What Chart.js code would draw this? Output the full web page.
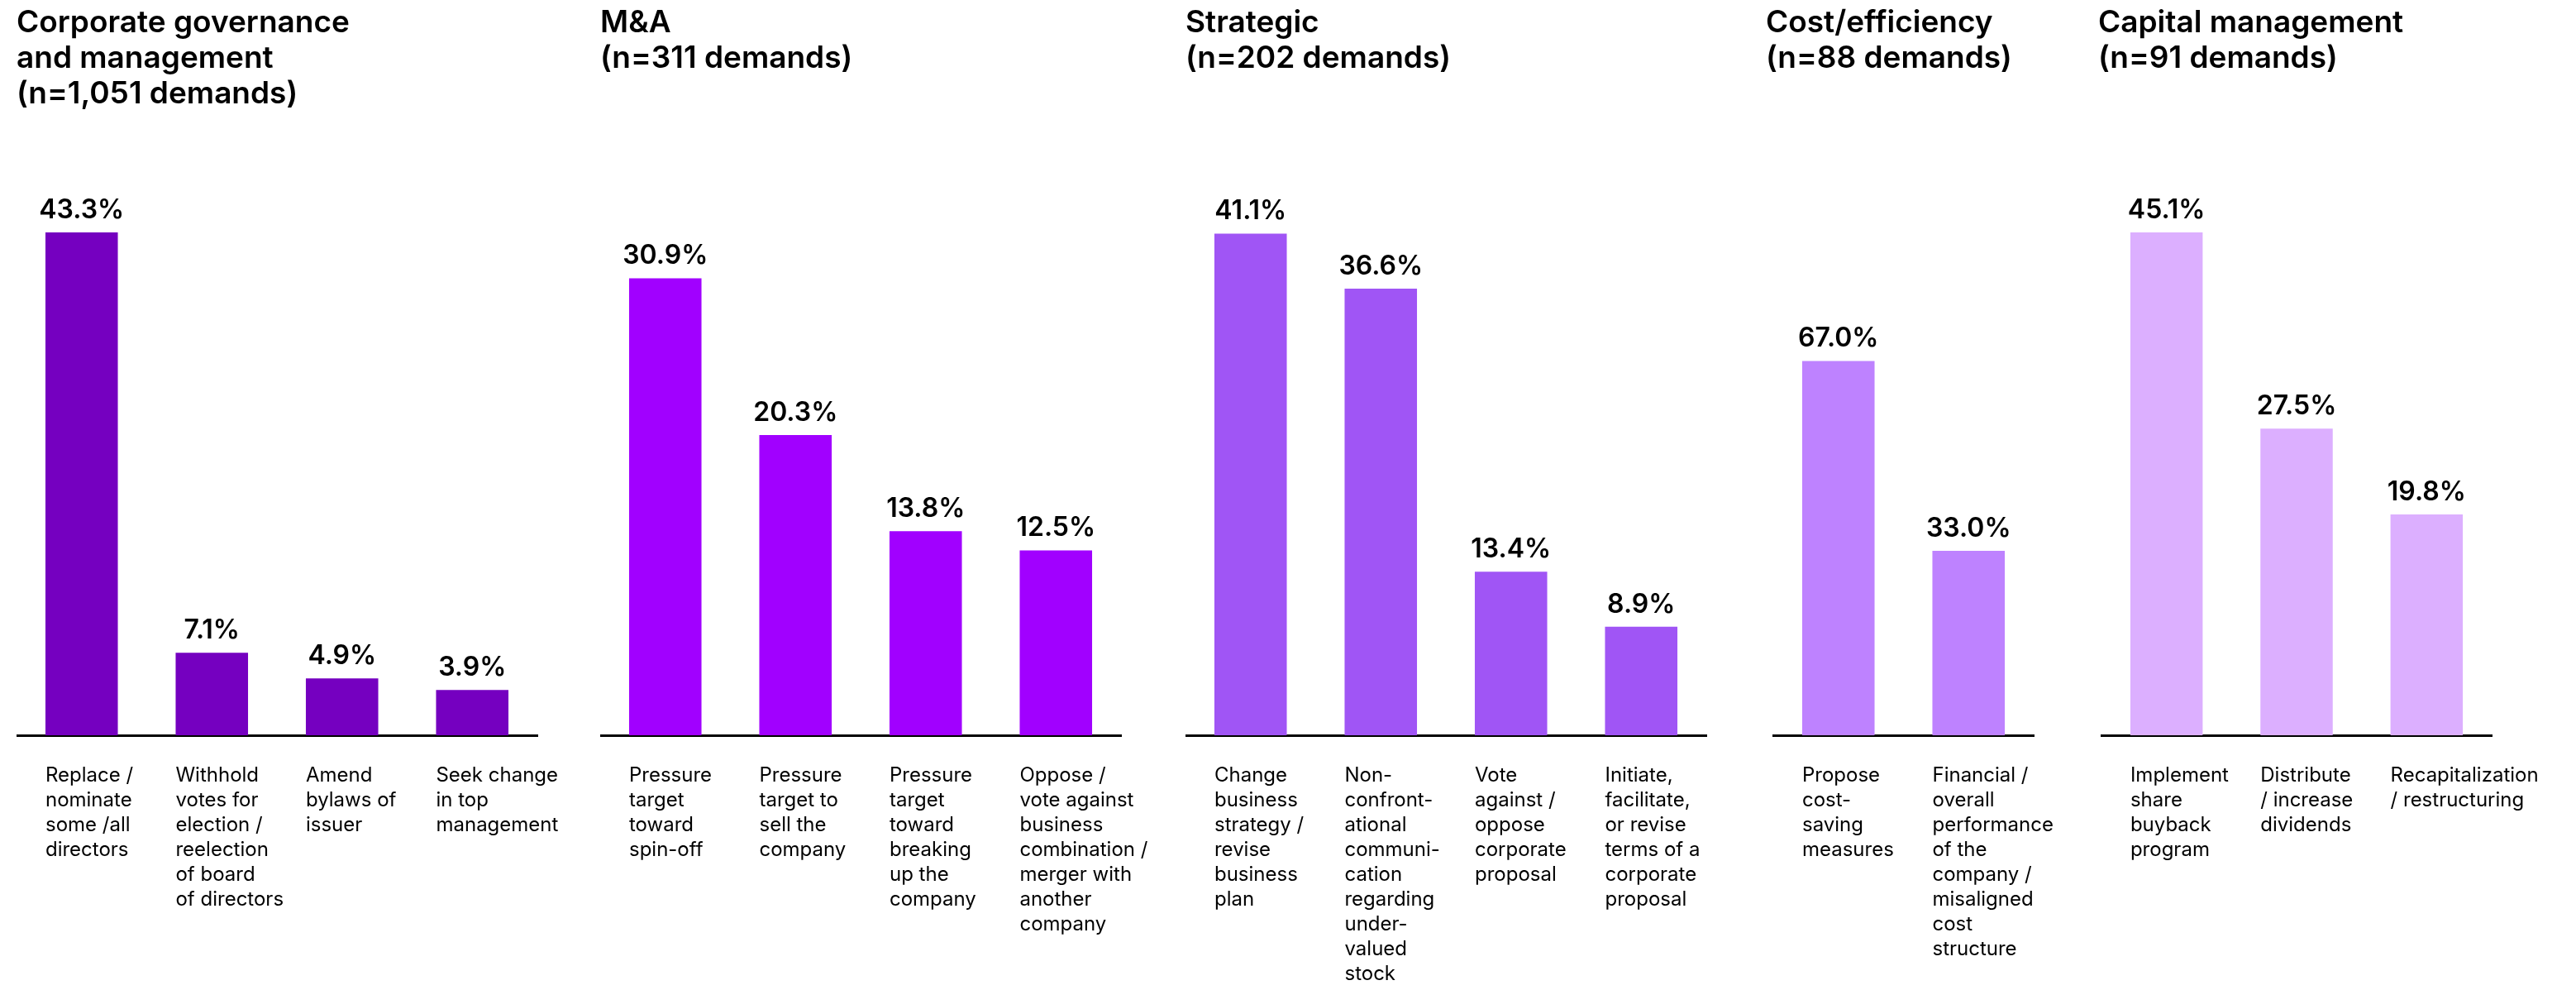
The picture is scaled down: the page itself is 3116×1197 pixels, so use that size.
<!DOCTYPE html>
<html>
<head>
<meta charset="utf-8">
<script src="https://cdn.jsdelivr.net/npm/chart.js@4.4.0/dist/chart.umd.min.js"></script>
<style>
  html, body { margin: 0; padding: 0; background: #fff; }
  #wrap { position: relative; width: 3116px; height: 1197px; overflow: hidden; }
  .panel { position: absolute; top: 0; height: 1197px; }
</style>
</head>
<body>
<div id="wrap">
  <div class="panel" style="left:20px;width:730px"><canvas id="govChart"></canvas></div>
  <div class="panel" style="left:726px;width:730px"><canvas id="maChart"></canvas></div>
  <div class="panel" style="left:1434px;width:730px"><canvas id="stratChart"></canvas></div>
  <div class="panel" style="left:2136px;width:424px"><canvas id="costChart"></canvas></div>
  <div class="panel" style="left:2538px;width:576px"><canvas id="capChart"></canvas></div>
</div>
<script>
// Datos de cada panel
const govTitle = ['Corporate governance', 'and management', '(n=1,051 demands)'];
const govLabels = [
    ['Replace /', 'nominate', 'some /all', 'directors'],
    ['Withhold', 'votes for', 'election /', 'reelection', 'of board', 'of directors'],
    ['Amend', 'bylaws of', 'issuer'],
    ['Seek change', 'in top', 'management']
];
const govValues = [43.3, 7.1, 4.9, 3.9];

const maTitle = ['M&A', '(n=311 demands)'];
const maLabels = [
    ['Pressure', 'target', 'toward', 'spin-off'],
    ['Pressure', 'target to', 'sell the', 'company'],
    ['Pressure', 'target', 'toward', 'breaking', 'up the', 'company'],
    ['Oppose /', 'vote against', 'business', 'combination /', 'merger with', 'another', 'company']
];
const maValues = [30.9, 20.3, 13.8, 12.5];

const stratTitle = ['Strategic', '(n=202 demands)'];
const stratLabels = [
    ['Change', 'business', 'strategy /', 'revise', 'business', 'plan'],
    ['Non-', 'confront-', 'ational', 'communi-', 'cation', 'regarding', 'under-', 'valued', 'stock'],
    ['Vote', 'against /', 'oppose', 'corporate', 'proposal'],
    ['Initiate,', 'facilitate,', 'or revise', 'terms of a', 'corporate', 'proposal']
];
const stratValues = [41.1, 36.6, 13.4, 8.9];

const costTitle = ['Cost/efficiency', '(n=88 demands)'];
const costLabels = [
    ['Propose', 'cost-', 'saving', 'measures'],
    ['Financial /', 'overall', 'performance', 'of the', 'company /', 'misaligned', 'cost', 'structure']
];
const costValues = [67.0, 33.0];

const capTitle = ['Capital management', '(n=91 demands)'];
const capLabels = [
    ['Implement', 'share', 'buyback', 'program'],
    ['Distribute', '/ increase', 'dividends'],
    ['Recapitalization', '/ restructuring']
];
const capValues = [45.1, 27.5, 19.8];

// Textos: título, valores y etiquetas de categoría
const panelText = {
    id: 'panelText',
    afterDatasetsDraw(chart, args, opts) {
        const ctx = chart.ctx;
        const area = chart.chartArea;
        const values = chart.data.datasets[0].data;
        ctx.save();
        ctx.fillStyle = '#000';
        ctx.textBaseline = 'alphabetic';

        ctx.font = '600 37px Inter';
        ctx.textAlign = 'left';
        opts.title.forEach(function(line, i) {
            ctx.fillText(line, 0, 39 + i * 43);
        });

        chart.getDatasetMeta(0).data.forEach(function(bar, i) {
            const left = bar.x - bar.width / 2;
            ctx.font = '600 32px Inter';
            ctx.textAlign = 'center';
            ctx.fillText(values[i].toFixed(1) + '%', bar.x, bar.y - 17);

            ctx.font = '400 24px Inter';
            ctx.textAlign = 'left';
            chart.data.labels[i].forEach(function(line, j) {
                ctx.fillText(line, left, area.bottom + 56 + j * 30);
            });
        });
        ctx.restore();
    }
};

function createPanel(id, title, labels, values, color, yMax, padLeft) {
    return new Chart(document.getElementById(id), {
        type: 'bar',
        data: {
            labels: labels,
            datasets: [{
                data: values,
                backgroundColor: color,
                borderWidth: 0,
                categoryPercentage: 1,
                barPercentage: 0.556
            }]
        },
        options: {
            responsive: true,
            maintainAspectRatio: false,
            animation: false,
            layout: {
                padding: { top: 281, bottom: 300, left: padLeft, right: 100 }
            },
            plugins: {
                legend: { display: false },
                tooltip: { enabled: false },
                panelText: { title: title }
            },
            scales: {
                x: {
                    grid: { display: false },
                    ticks: { display: false },
                    border: { display: true, color: '#000', width: 3 }
                },
                y: {
                    display: false,
                    min: 0,
                    max: yMax
                }
            }
        },
        plugins: [panelText]
    });
}

createPanel('govChart', govTitle, govLabels, govValues, '#7500C0', 43.3, 0);
createPanel('maChart', maTitle, maLabels, maValues, '#A100FF', 34.0, 0);
createPanel('stratChart', stratTitle, stratLabels, stratValues, '#A055F5', 41.2, 0);
createPanel('costChart', costTitle, costLabels, costValues, '#BE82FF', 90.0, 9);
createPanel('capChart', capTitle, capLabels, capValues, '#DCAFFF', 45.1, 4);
</script>
</body>
</html>
